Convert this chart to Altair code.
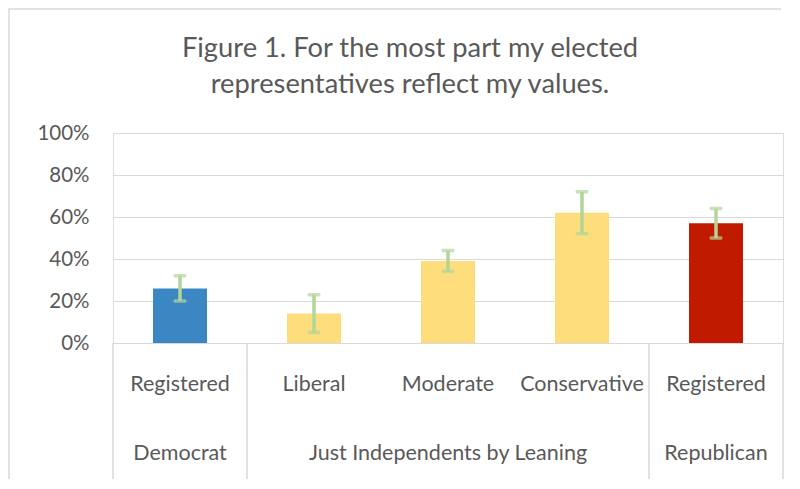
import altair as alt
import pandas as pd

# ---- data ----
keys = ["D_Registered", "I_Liberal", "I_Moderate", "I_Conservative", "R_Registered"]
subcats = ["Registered", "Liberal", "Moderate", "Conservative", "Registered"]
groups = ["Democrat", "Just Independents by Leaning", "Just Independents by Leaning",
          "Just Independents by Leaning", "Republican"]
values = [26, 14, 39, 62, 57]
err_low = [20, 5, 34, 52, 50]
err_high = [32, 23, 44, 72, 64]

group_names = ["Democrat", "Just Independents by Leaning", "Republican"]
group_start = [0, 1, 4]
group_end = [1, 4, 5]
boundaries = [0, 1, 4, 5]

y_ticks = [0, 20, 40, 60, 80, 100]
title_line1 = "Figure 1. For the most part my elected"
title_line2 = "representatives reflect my values."

group_colors = ["#3a87c4", "#fddd7c", "#c01b00"]

FONT = "Lato"
TXT = "#595959"
GRID = "#d9d9d9"
ERR = "#b2d699"

df = pd.DataFrame({"key": keys, "sub": subcats, "group": groups,
                   "value": values, "lo": err_low, "hi": err_high})
gdf = pd.DataFrame({"group": group_names, "start": group_start, "end": group_end})
bdf = pd.DataFrame({"b": boundaries})
one = pd.DataFrame({"a": [0]})

x_band = alt.X("key:N", sort=keys, axis=None,
               scale=alt.Scale(paddingInner=0.597, paddingOuter=0.2985))
y_enc = alt.Y("value:Q", scale=alt.Scale(domain=[0, 100], nice=False),
              axis=alt.Axis(values=y_ticks, labelExpr="datum.value + '%'",
                            grid=True, gridColor=GRID, gridWidth=1.2,
                            domain=False, ticks=False, tickSize=0,
                            labelFontSize=20.5, labelColor=TXT, labelFont=FONT,
                            labelPadding=24, title=None))

base = alt.Chart(df)

bars = base.mark_bar().encode(
    x=x_band,
    y=y_enc,
    color=alt.Color("group:N", scale=alt.Scale(domain=group_names, range=group_colors), legend=None),
)

err_rule = base.mark_rule(color=ERR, strokeWidth=3.5).encode(
    x=x_band, y=alt.Y("lo:Q"), y2="hi:Q")
cap_lo = base.mark_tick(color=ERR, size=13, thickness=3.5, cornerRadius=1.5).encode(
    x=x_band, y=alt.Y("lo:Q"))
cap_hi = base.mark_tick(color=ERR, size=13, thickness=3.5, cornerRadius=1.5).encode(
    x=x_band, y=alt.Y("hi:Q"))

sub_labels = base.mark_text(font=FONT, fontSize=21.5, color=TXT, baseline="alphabetic").encode(
    x=x_band, y=alt.value(258), text="sub:N")

x_lin = alt.X("b:Q", scale=alt.Scale(domain=[0, 5], nice=False, zero=False), axis=None)
separators = alt.Chart(bdf).mark_rule(color=GRID, strokeWidth=1.5).encode(
    x=x_lin, y=alt.value(210), y2=alt.value(346))

group_labels = alt.Chart(gdf).transform_calculate(
    b="(datum.start + datum.end) / 2"
).mark_text(font=FONT, fontSize=21.5, color=TXT, baseline="alphabetic").encode(
    x=x_lin, y=alt.value(327), text="group:N")

title1 = alt.Chart(one).mark_text(font=FONT, fontSize=27.3, color=TXT, baseline="alphabetic").encode(
    x=alt.value(297), y=alt.value(-76), text=alt.value(title_line1))
title2 = alt.Chart(one).mark_text(font=FONT, fontSize=27.3, color=TXT, baseline="alphabetic").encode(
    x=alt.value(297), y=alt.value(-40), text=alt.value(title_line2))

# outer chart frame (only the top and left edges fall inside the picture)
frame_top = alt.Chart(one).mark_rule(color=GRID, strokeWidth=1.5).encode(
    x=alt.value(-104), x2=alt.value(668), y=alt.value(-124), y2=alt.value(-124))
frame_left = alt.Chart(one).mark_rule(color=GRID, strokeWidth=1.5).encode(
    x=alt.value(-104), x2=alt.value(-104), y=alt.value(-124.7), y2=alt.value(346))

band_layer = alt.layer(bars, err_rule, cap_lo, cap_hi, sub_labels)
lin_layer = alt.layer(separators, group_labels)

chart = alt.layer(frame_top, frame_left, band_layer, lin_layer, title1, title2).resolve_scale(
    x="independent"
).properties(
    width=670, height=210,
    autosize=alt.AutoSizeParams(type="none"),
    padding={"left": 105, "top": 125, "right": 8, "bottom": 140},
).configure_view(strokeWidth=0).configure(background="white")

chart.save("out.html", embed_options={"renderer": "svg", "actions": False})
